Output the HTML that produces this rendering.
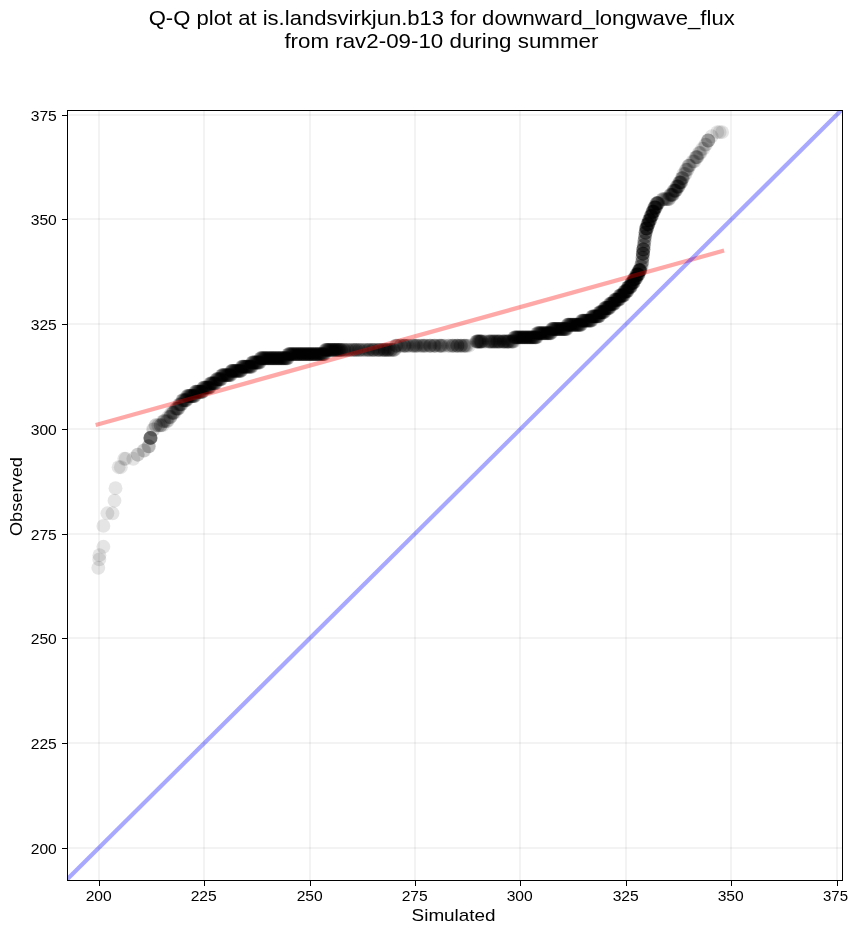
<!DOCTYPE html>
<html><head><meta charset="utf-8"><title>Q-Q plot</title>
<style>html,body{margin:0;padding:0;background:#fff;}body{width:859px;height:934px;overflow:hidden;}svg{display:block;}text{font-family:"Liberation Sans",sans-serif;fill:#000;}svg{will-change:transform;opacity:0.999;}</style>
</head><body>
<svg width="859" height="934" viewBox="0 0 859 934">
<rect x="0" y="0" width="859" height="934" fill="#fff"/>
<defs><clipPath id="ax"><rect x="67.5" y="110.5" width="775.0" height="770.0"/></clipPath></defs>
<g clip-path="url(#ax)" fill="#000" fill-opacity="0.1">
<circle cx="98.3" cy="567.8" r="6.95"/>
<circle cx="99.3" cy="559.4" r="6.95"/>
<circle cx="99.4" cy="555.2" r="6.95"/>
<circle cx="103.4" cy="546.8" r="6.95"/>
<circle cx="103.4" cy="525.9" r="6.95"/>
<circle cx="107.4" cy="513.3" r="6.95"/>
<circle cx="112.5" cy="513.3" r="6.95"/>
<circle cx="114.5" cy="500.7" r="6.95"/>
<circle cx="115.5" cy="488.2" r="6.95"/>
<circle cx="118.6" cy="467.2" r="6.95"/>
<circle cx="120.8" cy="467.2" r="6.95"/>
<circle cx="124.3" cy="458.8" r="6.95"/>
<circle cx="125.7" cy="458.8" r="6.95"/>
<circle cx="133.3" cy="458.8" r="6.95"/>
<circle cx="137.9" cy="454.7" r="6.95"/>
<circle cx="143.6" cy="450.5" r="6.95"/>
<circle cx="144.4" cy="450.5" r="6.95"/>
<circle cx="137.5" cy="454.7" r="6.95"/>
<circle cx="148.3" cy="446.3" r="6.95"/>
<circle cx="148.7" cy="446.3" r="6.95"/>
<circle cx="149.1" cy="446.3" r="6.95"/>
<circle cx="150.2" cy="437.9" r="6.95"/>
<circle cx="150.3" cy="437.9" r="6.95"/>
<circle cx="150.3" cy="437.9" r="6.95"/>
<circle cx="150.4" cy="437.9" r="6.95"/>
<circle cx="150.5" cy="437.9" r="6.95"/>
<circle cx="150.6" cy="437.9" r="6.95"/>
<circle cx="150.7" cy="437.9" r="6.95"/>
<circle cx="150.7" cy="437.9" r="6.95"/>
<circle cx="153.0" cy="429.5" r="6.95"/>
<circle cx="153.8" cy="429.5" r="6.95"/>
<circle cx="155.5" cy="425.3" r="6.95"/>
<circle cx="156.0" cy="425.3" r="6.95"/>
<circle cx="158.8" cy="425.3" r="6.95"/>
<circle cx="158.0" cy="425.3" r="6.95"/>
<circle cx="160.5" cy="425.3" r="6.95"/>
<circle cx="160.8" cy="425.3" r="6.95"/>
<circle cx="160.9" cy="425.3" r="6.95"/>
<circle cx="162.6" cy="425.3" r="6.95"/>
<circle cx="163.0" cy="421.1" r="6.95"/>
<circle cx="164.0" cy="421.1" r="6.95"/>
<circle cx="163.9" cy="421.1" r="6.95"/>
<circle cx="164.7" cy="421.1" r="6.95"/>
<circle cx="166.2" cy="421.1" r="6.95"/>
<circle cx="167.7" cy="421.1" r="6.95"/>
<circle cx="166.9" cy="421.1" r="6.95"/>
<circle cx="168.0" cy="417.0" r="6.95"/>
<circle cx="169.1" cy="417.0" r="6.95"/>
<circle cx="170.3" cy="417.0" r="6.95"/>
<circle cx="170.2" cy="417.0" r="6.95"/>
<circle cx="170.5" cy="417.0" r="6.95"/>
<circle cx="172.2" cy="412.8" r="6.95"/>
<circle cx="171.1" cy="412.8" r="6.95"/>
<circle cx="173.3" cy="412.8" r="6.95"/>
<circle cx="172.8" cy="412.8" r="6.95"/>
<circle cx="173.2" cy="412.8" r="6.95"/>
<circle cx="173.8" cy="412.8" r="6.95"/>
<circle cx="174.8" cy="412.8" r="6.95"/>
<circle cx="175.9" cy="408.6" r="6.95"/>
<circle cx="176.0" cy="408.6" r="6.95"/>
<circle cx="176.6" cy="408.6" r="6.95"/>
<circle cx="177.1" cy="408.6" r="6.95"/>
<circle cx="177.4" cy="408.6" r="6.95"/>
<circle cx="177.9" cy="408.6" r="6.95"/>
<circle cx="178.2" cy="408.6" r="6.95"/>
<circle cx="178.6" cy="408.6" r="6.95"/>
<circle cx="179.1" cy="404.4" r="6.95"/>
<circle cx="179.7" cy="404.4" r="6.95"/>
<circle cx="180.0" cy="404.4" r="6.95"/>
<circle cx="180.4" cy="404.4" r="6.95"/>
<circle cx="181.0" cy="404.4" r="6.95"/>
<circle cx="181.3" cy="404.4" r="6.95"/>
<circle cx="181.7" cy="404.4" r="6.95"/>
<circle cx="182.3" cy="400.2" r="6.95"/>
<circle cx="182.7" cy="400.2" r="6.95"/>
<circle cx="183.0" cy="400.2" r="6.95"/>
<circle cx="183.5" cy="400.2" r="6.95"/>
<circle cx="183.9" cy="400.2" r="6.95"/>
<circle cx="184.5" cy="400.2" r="6.95"/>
<circle cx="184.9" cy="400.2" r="6.95"/>
<circle cx="185.1" cy="400.2" r="6.95"/>
<circle cx="185.7" cy="400.2" r="6.95"/>
<circle cx="185.7" cy="400.2" r="6.95"/>
<circle cx="186.1" cy="400.2" r="6.95"/>
<circle cx="186.6" cy="400.2" r="6.95"/>
<circle cx="186.7" cy="400.2" r="6.95"/>
<circle cx="187.2" cy="396.0" r="6.95"/>
<circle cx="187.3" cy="396.0" r="6.95"/>
<circle cx="187.9" cy="396.0" r="6.95"/>
<circle cx="188.3" cy="396.0" r="6.95"/>
<circle cx="188.5" cy="396.0" r="6.95"/>
<circle cx="189.0" cy="396.0" r="6.95"/>
<circle cx="189.1" cy="396.0" r="6.95"/>
<circle cx="189.6" cy="396.0" r="6.95"/>
<circle cx="189.9" cy="396.0" r="6.95"/>
<circle cx="190.2" cy="396.0" r="6.95"/>
<circle cx="190.5" cy="396.0" r="6.95"/>
<circle cx="190.9" cy="396.0" r="6.95"/>
<circle cx="191.3" cy="396.0" r="6.95"/>
<circle cx="191.5" cy="396.0" r="6.95"/>
<circle cx="191.9" cy="396.0" r="6.95"/>
<circle cx="192.0" cy="396.0" r="6.95"/>
<circle cx="192.6" cy="396.0" r="6.95"/>
<circle cx="192.9" cy="396.0" r="6.95"/>
<circle cx="193.3" cy="396.0" r="6.95"/>
<circle cx="193.6" cy="396.0" r="6.95"/>
<circle cx="193.8" cy="396.0" r="6.95"/>
<circle cx="194.1" cy="396.0" r="6.95"/>
<circle cx="194.6" cy="396.0" r="6.95"/>
<circle cx="194.7" cy="396.0" r="6.95"/>
<circle cx="195.2" cy="391.8" r="6.95"/>
<circle cx="195.4" cy="391.8" r="6.95"/>
<circle cx="195.7" cy="391.8" r="6.95"/>
<circle cx="196.0" cy="391.8" r="6.95"/>
<circle cx="196.6" cy="391.8" r="6.95"/>
<circle cx="196.7" cy="391.8" r="6.95"/>
<circle cx="197.1" cy="391.8" r="6.95"/>
<circle cx="197.5" cy="391.8" r="6.95"/>
<circle cx="198.0" cy="391.8" r="6.95"/>
<circle cx="198.0" cy="391.8" r="6.95"/>
<circle cx="198.5" cy="391.8" r="6.95"/>
<circle cx="198.8" cy="391.8" r="6.95"/>
<circle cx="199.3" cy="391.8" r="6.95"/>
<circle cx="199.6" cy="391.8" r="6.95"/>
<circle cx="200.0" cy="391.8" r="6.95"/>
<circle cx="200.1" cy="391.8" r="6.95"/>
<circle cx="200.5" cy="391.8" r="6.95"/>
<circle cx="200.8" cy="391.8" r="6.95"/>
<circle cx="201.3" cy="391.8" r="6.95"/>
<circle cx="201.7" cy="391.8" r="6.95"/>
<circle cx="201.7" cy="391.8" r="6.95"/>
<circle cx="202.1" cy="391.8" r="6.95"/>
<circle cx="202.4" cy="391.8" r="6.95"/>
<circle cx="202.7" cy="391.8" r="6.95"/>
<circle cx="203.2" cy="387.6" r="6.95"/>
<circle cx="203.5" cy="387.6" r="6.95"/>
<circle cx="203.8" cy="387.6" r="6.95"/>
<circle cx="204.0" cy="387.6" r="6.95"/>
<circle cx="204.5" cy="387.6" r="6.95"/>
<circle cx="204.8" cy="387.6" r="6.95"/>
<circle cx="205.2" cy="387.6" r="6.95"/>
<circle cx="205.7" cy="387.6" r="6.95"/>
<circle cx="205.9" cy="387.6" r="6.95"/>
<circle cx="206.2" cy="387.6" r="6.95"/>
<circle cx="206.5" cy="387.6" r="6.95"/>
<circle cx="206.9" cy="387.6" r="6.95"/>
<circle cx="207.0" cy="387.6" r="6.95"/>
<circle cx="207.6" cy="387.6" r="6.95"/>
<circle cx="207.9" cy="387.6" r="6.95"/>
<circle cx="208.3" cy="387.6" r="6.95"/>
<circle cx="208.6" cy="387.6" r="6.95"/>
<circle cx="208.8" cy="387.6" r="6.95"/>
<circle cx="209.1" cy="387.6" r="6.95"/>
<circle cx="209.4" cy="387.6" r="6.95"/>
<circle cx="209.9" cy="387.6" r="6.95"/>
<circle cx="210.0" cy="383.4" r="6.95"/>
<circle cx="210.4" cy="383.4" r="6.95"/>
<circle cx="210.7" cy="383.4" r="6.95"/>
<circle cx="211.1" cy="383.4" r="6.95"/>
<circle cx="211.4" cy="383.4" r="6.95"/>
<circle cx="211.7" cy="383.4" r="6.95"/>
<circle cx="212.0" cy="383.4" r="6.95"/>
<circle cx="212.4" cy="383.4" r="6.95"/>
<circle cx="212.7" cy="383.4" r="6.95"/>
<circle cx="213.1" cy="383.4" r="6.95"/>
<circle cx="213.3" cy="383.4" r="6.95"/>
<circle cx="214.0" cy="383.4" r="6.95"/>
<circle cx="214.2" cy="383.4" r="6.95"/>
<circle cx="214.4" cy="383.4" r="6.95"/>
<circle cx="214.8" cy="383.4" r="6.95"/>
<circle cx="215.1" cy="383.4" r="6.95"/>
<circle cx="215.5" cy="383.4" r="6.95"/>
<circle cx="215.7" cy="383.4" r="6.95"/>
<circle cx="216.3" cy="379.3" r="6.95"/>
<circle cx="216.7" cy="379.3" r="6.95"/>
<circle cx="216.8" cy="379.3" r="6.95"/>
<circle cx="217.2" cy="379.3" r="6.95"/>
<circle cx="217.4" cy="379.3" r="6.95"/>
<circle cx="217.8" cy="379.3" r="6.95"/>
<circle cx="218.2" cy="379.3" r="6.95"/>
<circle cx="218.5" cy="379.3" r="6.95"/>
<circle cx="219.0" cy="379.3" r="6.95"/>
<circle cx="219.1" cy="379.3" r="6.95"/>
<circle cx="219.4" cy="379.3" r="6.95"/>
<circle cx="220.1" cy="379.3" r="6.95"/>
<circle cx="220.3" cy="379.3" r="6.95"/>
<circle cx="220.5" cy="379.3" r="6.95"/>
<circle cx="221.0" cy="379.3" r="6.95"/>
<circle cx="221.2" cy="379.3" r="6.95"/>
<circle cx="221.7" cy="375.1" r="6.95"/>
<circle cx="222.2" cy="375.1" r="6.95"/>
<circle cx="222.5" cy="375.1" r="6.95"/>
<circle cx="222.8" cy="375.1" r="6.95"/>
<circle cx="222.9" cy="375.1" r="6.95"/>
<circle cx="223.3" cy="375.1" r="6.95"/>
<circle cx="223.6" cy="375.1" r="6.95"/>
<circle cx="224.1" cy="375.1" r="6.95"/>
<circle cx="224.4" cy="375.1" r="6.95"/>
<circle cx="224.8" cy="375.1" r="6.95"/>
<circle cx="225.0" cy="375.1" r="6.95"/>
<circle cx="225.3" cy="375.1" r="6.95"/>
<circle cx="225.8" cy="375.1" r="6.95"/>
<circle cx="226.2" cy="375.1" r="6.95"/>
<circle cx="226.5" cy="375.1" r="6.95"/>
<circle cx="226.9" cy="375.1" r="6.95"/>
<circle cx="227.2" cy="375.1" r="6.95"/>
<circle cx="227.5" cy="375.1" r="6.95"/>
<circle cx="227.7" cy="375.1" r="6.95"/>
<circle cx="228.1" cy="375.1" r="6.95"/>
<circle cx="228.4" cy="375.1" r="6.95"/>
<circle cx="228.6" cy="375.1" r="6.95"/>
<circle cx="229.0" cy="375.1" r="6.95"/>
<circle cx="229.4" cy="375.1" r="6.95"/>
<circle cx="229.7" cy="375.1" r="6.95"/>
<circle cx="230.2" cy="375.1" r="6.95"/>
<circle cx="230.6" cy="375.1" r="6.95"/>
<circle cx="230.8" cy="375.1" r="6.95"/>
<circle cx="231.3" cy="370.9" r="6.95"/>
<circle cx="231.7" cy="370.9" r="6.95"/>
<circle cx="232.0" cy="370.9" r="6.95"/>
<circle cx="232.1" cy="370.9" r="6.95"/>
<circle cx="232.4" cy="370.9" r="6.95"/>
<circle cx="232.7" cy="370.9" r="6.95"/>
<circle cx="233.0" cy="370.9" r="6.95"/>
<circle cx="233.4" cy="370.9" r="6.95"/>
<circle cx="233.8" cy="370.9" r="6.95"/>
<circle cx="234.2" cy="370.9" r="6.95"/>
<circle cx="234.6" cy="370.9" r="6.95"/>
<circle cx="234.8" cy="370.9" r="6.95"/>
<circle cx="235.2" cy="370.9" r="6.95"/>
<circle cx="235.5" cy="370.9" r="6.95"/>
<circle cx="235.6" cy="370.9" r="6.95"/>
<circle cx="236.1" cy="370.9" r="6.95"/>
<circle cx="236.5" cy="370.9" r="6.95"/>
<circle cx="236.8" cy="370.9" r="6.95"/>
<circle cx="237.2" cy="370.9" r="6.95"/>
<circle cx="237.4" cy="370.9" r="6.95"/>
<circle cx="237.6" cy="370.9" r="6.95"/>
<circle cx="238.1" cy="370.9" r="6.95"/>
<circle cx="238.3" cy="370.9" r="6.95"/>
<circle cx="238.8" cy="370.9" r="6.95"/>
<circle cx="239.2" cy="370.9" r="6.95"/>
<circle cx="239.3" cy="370.9" r="6.95"/>
<circle cx="239.7" cy="370.9" r="6.95"/>
<circle cx="240.2" cy="370.9" r="6.95"/>
<circle cx="240.4" cy="370.9" r="6.95"/>
<circle cx="240.6" cy="370.9" r="6.95"/>
<circle cx="240.9" cy="370.9" r="6.95"/>
<circle cx="241.2" cy="370.9" r="6.95"/>
<circle cx="241.8" cy="366.7" r="6.95"/>
<circle cx="242.1" cy="366.7" r="6.95"/>
<circle cx="242.2" cy="366.7" r="6.95"/>
<circle cx="242.8" cy="366.7" r="6.95"/>
<circle cx="243.1" cy="366.7" r="6.95"/>
<circle cx="243.4" cy="366.7" r="6.95"/>
<circle cx="243.6" cy="366.7" r="6.95"/>
<circle cx="244.0" cy="366.7" r="6.95"/>
<circle cx="244.2" cy="366.7" r="6.95"/>
<circle cx="244.5" cy="366.7" r="6.95"/>
<circle cx="245.1" cy="366.7" r="6.95"/>
<circle cx="245.3" cy="366.7" r="6.95"/>
<circle cx="245.6" cy="366.7" r="6.95"/>
<circle cx="246.1" cy="366.7" r="6.95"/>
<circle cx="246.2" cy="366.7" r="6.95"/>
<circle cx="246.7" cy="366.7" r="6.95"/>
<circle cx="247.0" cy="366.7" r="6.95"/>
<circle cx="247.1" cy="366.7" r="6.95"/>
<circle cx="247.5" cy="366.7" r="6.95"/>
<circle cx="247.8" cy="366.7" r="6.95"/>
<circle cx="248.1" cy="366.7" r="6.95"/>
<circle cx="248.6" cy="366.7" r="6.95"/>
<circle cx="248.8" cy="366.7" r="6.95"/>
<circle cx="249.2" cy="366.7" r="6.95"/>
<circle cx="249.4" cy="366.7" r="6.95"/>
<circle cx="250.0" cy="366.7" r="6.95"/>
<circle cx="250.1" cy="366.7" r="6.95"/>
<circle cx="250.5" cy="366.7" r="6.95"/>
<circle cx="250.9" cy="366.7" r="6.95"/>
<circle cx="251.3" cy="366.7" r="6.95"/>
<circle cx="251.5" cy="366.7" r="6.95"/>
<circle cx="252.0" cy="366.7" r="6.95"/>
<circle cx="252.2" cy="362.5" r="6.95"/>
<circle cx="252.5" cy="362.5" r="6.95"/>
<circle cx="252.8" cy="362.5" r="6.95"/>
<circle cx="253.0" cy="362.5" r="6.95"/>
<circle cx="253.5" cy="362.5" r="6.95"/>
<circle cx="253.7" cy="362.5" r="6.95"/>
<circle cx="254.0" cy="362.5" r="6.95"/>
<circle cx="254.6" cy="362.5" r="6.95"/>
<circle cx="254.7" cy="362.5" r="6.95"/>
<circle cx="255.2" cy="362.5" r="6.95"/>
<circle cx="255.6" cy="362.5" r="6.95"/>
<circle cx="255.9" cy="362.5" r="6.95"/>
<circle cx="256.1" cy="362.5" r="6.95"/>
<circle cx="256.5" cy="362.5" r="6.95"/>
<circle cx="256.9" cy="362.5" r="6.95"/>
<circle cx="257.3" cy="362.5" r="6.95"/>
<circle cx="257.4" cy="362.5" r="6.95"/>
<circle cx="257.9" cy="362.5" r="6.95"/>
<circle cx="258.1" cy="362.5" r="6.95"/>
<circle cx="258.4" cy="362.5" r="6.95"/>
<circle cx="258.9" cy="362.5" r="6.95"/>
<circle cx="259.2" cy="362.5" r="6.95"/>
<circle cx="259.5" cy="362.5" r="6.95"/>
<circle cx="259.9" cy="362.5" r="6.95"/>
<circle cx="260.3" cy="358.3" r="6.95"/>
<circle cx="260.5" cy="358.3" r="6.95"/>
<circle cx="260.9" cy="358.3" r="6.95"/>
<circle cx="261.2" cy="358.3" r="6.95"/>
<circle cx="261.5" cy="358.3" r="6.95"/>
<circle cx="261.9" cy="358.3" r="6.95"/>
<circle cx="262.2" cy="358.3" r="6.95"/>
<circle cx="262.5" cy="358.3" r="6.95"/>
<circle cx="262.8" cy="358.3" r="6.95"/>
<circle cx="263.3" cy="358.3" r="6.95"/>
<circle cx="263.6" cy="358.3" r="6.95"/>
<circle cx="264.0" cy="358.3" r="6.95"/>
<circle cx="264.3" cy="358.3" r="6.95"/>
<circle cx="264.4" cy="358.3" r="6.95"/>
<circle cx="264.9" cy="358.3" r="6.95"/>
<circle cx="265.3" cy="358.3" r="6.95"/>
<circle cx="265.6" cy="358.3" r="6.95"/>
<circle cx="265.7" cy="358.3" r="6.95"/>
<circle cx="266.0" cy="358.3" r="6.95"/>
<circle cx="266.5" cy="358.3" r="6.95"/>
<circle cx="266.7" cy="358.3" r="6.95"/>
<circle cx="267.1" cy="358.3" r="6.95"/>
<circle cx="267.4" cy="358.3" r="6.95"/>
<circle cx="267.9" cy="358.3" r="6.95"/>
<circle cx="268.3" cy="358.3" r="6.95"/>
<circle cx="268.6" cy="358.3" r="6.95"/>
<circle cx="268.7" cy="358.3" r="6.95"/>
<circle cx="269.2" cy="358.3" r="6.95"/>
<circle cx="269.6" cy="358.3" r="6.95"/>
<circle cx="269.7" cy="358.3" r="6.95"/>
<circle cx="270.3" cy="358.3" r="6.95"/>
<circle cx="270.7" cy="358.3" r="6.95"/>
<circle cx="270.7" cy="358.3" r="6.95"/>
<circle cx="271.3" cy="358.3" r="6.95"/>
<circle cx="271.5" cy="358.3" r="6.95"/>
<circle cx="271.8" cy="358.3" r="6.95"/>
<circle cx="272.3" cy="358.3" r="6.95"/>
<circle cx="272.6" cy="358.3" r="6.95"/>
<circle cx="272.7" cy="358.3" r="6.95"/>
<circle cx="273.1" cy="358.3" r="6.95"/>
<circle cx="273.5" cy="358.3" r="6.95"/>
<circle cx="273.8" cy="358.3" r="6.95"/>
<circle cx="274.1" cy="358.3" r="6.95"/>
<circle cx="274.4" cy="358.3" r="6.95"/>
<circle cx="274.9" cy="358.3" r="6.95"/>
<circle cx="275.0" cy="358.3" r="6.95"/>
<circle cx="275.5" cy="358.3" r="6.95"/>
<circle cx="275.8" cy="358.3" r="6.95"/>
<circle cx="276.0" cy="358.3" r="6.95"/>
<circle cx="276.4" cy="358.3" r="6.95"/>
<circle cx="276.9" cy="358.3" r="6.95"/>
<circle cx="277.2" cy="358.3" r="6.95"/>
<circle cx="277.4" cy="358.3" r="6.95"/>
<circle cx="278.0" cy="358.3" r="6.95"/>
<circle cx="278.3" cy="358.3" r="6.95"/>
<circle cx="278.7" cy="358.3" r="6.95"/>
<circle cx="278.7" cy="358.3" r="6.95"/>
<circle cx="279.1" cy="358.3" r="6.95"/>
<circle cx="279.3" cy="358.3" r="6.95"/>
<circle cx="279.9" cy="358.3" r="6.95"/>
<circle cx="280.1" cy="358.3" r="6.95"/>
<circle cx="280.4" cy="358.3" r="6.95"/>
<circle cx="280.8" cy="358.3" r="6.95"/>
<circle cx="281.3" cy="358.3" r="6.95"/>
<circle cx="281.6" cy="358.3" r="6.95"/>
<circle cx="281.8" cy="358.3" r="6.95"/>
<circle cx="282.0" cy="358.3" r="6.95"/>
<circle cx="282.6" cy="358.3" r="6.95"/>
<circle cx="282.9" cy="358.3" r="6.95"/>
<circle cx="283.2" cy="358.3" r="6.95"/>
<circle cx="283.4" cy="358.3" r="6.95"/>
<circle cx="283.7" cy="358.3" r="6.95"/>
<circle cx="284.2" cy="358.3" r="6.95"/>
<circle cx="284.5" cy="358.3" r="6.95"/>
<circle cx="284.7" cy="358.3" r="6.95"/>
<circle cx="285.3" cy="358.3" r="6.95"/>
<circle cx="285.5" cy="358.3" r="6.95"/>
<circle cx="285.9" cy="358.3" r="6.95"/>
<circle cx="286.0" cy="358.3" r="6.95"/>
<circle cx="286.6" cy="358.3" r="6.95"/>
<circle cx="286.7" cy="358.3" r="6.95"/>
<circle cx="287.3" cy="358.3" r="6.95"/>
<circle cx="287.5" cy="358.3" r="6.95"/>
<circle cx="287.8" cy="358.3" r="6.95"/>
<circle cx="288.2" cy="354.1" r="6.95"/>
<circle cx="288.6" cy="354.1" r="6.95"/>
<circle cx="288.8" cy="354.1" r="6.95"/>
<circle cx="289.0" cy="354.1" r="6.95"/>
<circle cx="289.5" cy="354.1" r="6.95"/>
<circle cx="289.7" cy="354.1" r="6.95"/>
<circle cx="290.0" cy="354.1" r="6.95"/>
<circle cx="290.4" cy="354.1" r="6.95"/>
<circle cx="290.7" cy="354.1" r="6.95"/>
<circle cx="291.1" cy="354.1" r="6.95"/>
<circle cx="291.4" cy="354.1" r="6.95"/>
<circle cx="291.8" cy="354.1" r="6.95"/>
<circle cx="292.3" cy="354.1" r="6.95"/>
<circle cx="292.4" cy="354.1" r="6.95"/>
<circle cx="292.8" cy="354.1" r="6.95"/>
<circle cx="293.1" cy="354.1" r="6.95"/>
<circle cx="293.4" cy="354.1" r="6.95"/>
<circle cx="293.7" cy="354.1" r="6.95"/>
<circle cx="294.1" cy="354.1" r="6.95"/>
<circle cx="294.3" cy="354.1" r="6.95"/>
<circle cx="294.9" cy="354.1" r="6.95"/>
<circle cx="295.2" cy="354.1" r="6.95"/>
<circle cx="295.4" cy="354.1" r="6.95"/>
<circle cx="295.8" cy="354.1" r="6.95"/>
<circle cx="296.3" cy="354.1" r="6.95"/>
<circle cx="296.4" cy="354.1" r="6.95"/>
<circle cx="296.9" cy="354.1" r="6.95"/>
<circle cx="297.1" cy="354.1" r="6.95"/>
<circle cx="297.5" cy="354.1" r="6.95"/>
<circle cx="297.9" cy="354.1" r="6.95"/>
<circle cx="298.1" cy="354.1" r="6.95"/>
<circle cx="298.5" cy="354.1" r="6.95"/>
<circle cx="298.9" cy="354.1" r="6.95"/>
<circle cx="299.3" cy="354.1" r="6.95"/>
<circle cx="299.4" cy="354.1" r="6.95"/>
<circle cx="299.9" cy="354.1" r="6.95"/>
<circle cx="300.2" cy="354.1" r="6.95"/>
<circle cx="300.5" cy="354.1" r="6.95"/>
<circle cx="300.8" cy="354.1" r="6.95"/>
<circle cx="301.1" cy="354.1" r="6.95"/>
<circle cx="301.4" cy="354.1" r="6.95"/>
<circle cx="301.7" cy="354.1" r="6.95"/>
<circle cx="302.0" cy="354.1" r="6.95"/>
<circle cx="302.6" cy="354.1" r="6.95"/>
<circle cx="302.8" cy="354.1" r="6.95"/>
<circle cx="303.1" cy="354.1" r="6.95"/>
<circle cx="303.4" cy="354.1" r="6.95"/>
<circle cx="303.9" cy="354.1" r="6.95"/>
<circle cx="304.3" cy="354.1" r="6.95"/>
<circle cx="304.6" cy="354.1" r="6.95"/>
<circle cx="304.8" cy="354.1" r="6.95"/>
<circle cx="305.1" cy="354.1" r="6.95"/>
<circle cx="305.4" cy="354.1" r="6.95"/>
<circle cx="305.8" cy="354.1" r="6.95"/>
<circle cx="306.1" cy="354.1" r="6.95"/>
<circle cx="306.5" cy="354.1" r="6.95"/>
<circle cx="306.8" cy="354.1" r="6.95"/>
<circle cx="307.3" cy="354.1" r="6.95"/>
<circle cx="307.7" cy="354.1" r="6.95"/>
<circle cx="307.8" cy="354.1" r="6.95"/>
<circle cx="308.1" cy="354.1" r="6.95"/>
<circle cx="308.7" cy="354.1" r="6.95"/>
<circle cx="308.8" cy="354.1" r="6.95"/>
<circle cx="309.1" cy="354.1" r="6.95"/>
<circle cx="309.3" cy="354.1" r="6.95"/>
<circle cx="309.8" cy="354.1" r="6.95"/>
<circle cx="310.2" cy="354.1" r="6.95"/>
<circle cx="310.5" cy="354.1" r="6.95"/>
<circle cx="310.7" cy="354.1" r="6.95"/>
<circle cx="311.2" cy="354.1" r="6.95"/>
<circle cx="311.3" cy="354.1" r="6.95"/>
<circle cx="311.8" cy="354.1" r="6.95"/>
<circle cx="312.0" cy="354.1" r="6.95"/>
<circle cx="312.5" cy="354.1" r="6.95"/>
<circle cx="312.7" cy="354.1" r="6.95"/>
<circle cx="313.0" cy="354.1" r="6.95"/>
<circle cx="313.4" cy="354.1" r="6.95"/>
<circle cx="313.7" cy="354.1" r="6.95"/>
<circle cx="314.2" cy="354.1" r="6.95"/>
<circle cx="314.5" cy="354.1" r="6.95"/>
<circle cx="314.9" cy="354.1" r="6.95"/>
<circle cx="315.2" cy="354.1" r="6.95"/>
<circle cx="315.6" cy="354.1" r="6.95"/>
<circle cx="316.0" cy="354.1" r="6.95"/>
<circle cx="316.1" cy="354.1" r="6.95"/>
<circle cx="316.4" cy="354.1" r="6.95"/>
<circle cx="317.0" cy="354.1" r="6.95"/>
<circle cx="317.0" cy="354.1" r="6.95"/>
<circle cx="317.6" cy="354.1" r="6.95"/>
<circle cx="317.9" cy="354.1" r="6.95"/>
<circle cx="318.0" cy="354.1" r="6.95"/>
<circle cx="318.6" cy="354.1" r="6.95"/>
<circle cx="319.0" cy="354.1" r="6.95"/>
<circle cx="319.2" cy="354.1" r="6.95"/>
<circle cx="319.6" cy="354.1" r="6.95"/>
<circle cx="319.9" cy="354.1" r="6.95"/>
<circle cx="320.0" cy="354.1" r="6.95"/>
<circle cx="320.5" cy="354.1" r="6.95"/>
<circle cx="320.8" cy="354.1" r="6.95"/>
<circle cx="321.3" cy="354.1" r="6.95"/>
<circle cx="321.6" cy="354.1" r="6.95"/>
<circle cx="321.9" cy="354.1" r="6.95"/>
<circle cx="322.2" cy="354.1" r="6.95"/>
<circle cx="322.6" cy="354.1" r="6.95"/>
<circle cx="322.9" cy="354.1" r="6.95"/>
<circle cx="323.2" cy="354.1" r="6.95"/>
<circle cx="323.4" cy="354.1" r="6.95"/>
<circle cx="323.7" cy="354.1" r="6.95"/>
<circle cx="324.0" cy="354.1" r="6.95"/>
<circle cx="324.5" cy="354.1" r="6.95"/>
<circle cx="324.7" cy="354.1" r="6.95"/>
<circle cx="325.3" cy="349.9" r="6.95"/>
<circle cx="325.5" cy="349.9" r="6.95"/>
<circle cx="325.9" cy="349.9" r="6.95"/>
<circle cx="326.2" cy="349.9" r="6.95"/>
<circle cx="326.6" cy="349.9" r="6.95"/>
<circle cx="326.8" cy="349.9" r="6.95"/>
<circle cx="327.0" cy="349.9" r="6.95"/>
<circle cx="327.6" cy="349.9" r="6.95"/>
<circle cx="327.9" cy="349.9" r="6.95"/>
<circle cx="328.2" cy="349.9" r="6.95"/>
<circle cx="328.5" cy="349.9" r="6.95"/>
<circle cx="328.9" cy="349.9" r="6.95"/>
<circle cx="329.0" cy="349.9" r="6.95"/>
<circle cx="329.6" cy="349.9" r="6.95"/>
<circle cx="329.8" cy="349.9" r="6.95"/>
<circle cx="330.0" cy="349.9" r="6.95"/>
<circle cx="330.4" cy="349.9" r="6.95"/>
<circle cx="330.9" cy="349.9" r="6.95"/>
<circle cx="331.1" cy="349.9" r="6.95"/>
<circle cx="331.6" cy="349.9" r="6.95"/>
<circle cx="332.0" cy="349.9" r="6.95"/>
<circle cx="332.2" cy="349.9" r="6.95"/>
<circle cx="332.5" cy="349.9" r="6.95"/>
<circle cx="332.8" cy="349.9" r="6.95"/>
<circle cx="333.2" cy="349.9" r="6.95"/>
<circle cx="333.6" cy="349.9" r="6.95"/>
<circle cx="333.9" cy="349.9" r="6.95"/>
<circle cx="334.2" cy="349.9" r="6.95"/>
<circle cx="334.4" cy="349.9" r="6.95"/>
<circle cx="334.7" cy="349.9" r="6.95"/>
<circle cx="335.1" cy="349.9" r="6.95"/>
<circle cx="335.6" cy="349.9" r="6.95"/>
<circle cx="335.8" cy="349.9" r="6.95"/>
<circle cx="336.2" cy="349.9" r="6.95"/>
<circle cx="336.3" cy="349.9" r="6.95"/>
<circle cx="336.7" cy="349.9" r="6.95"/>
<circle cx="337.1" cy="349.9" r="6.95"/>
<circle cx="337.6" cy="349.9" r="6.95"/>
<circle cx="337.9" cy="349.9" r="6.95"/>
<circle cx="338.2" cy="349.9" r="6.95"/>
<circle cx="338.4" cy="349.9" r="6.95"/>
<circle cx="338.8" cy="349.9" r="6.95"/>
<circle cx="339.2" cy="349.9" r="6.95"/>
<circle cx="339.5" cy="349.9" r="6.95"/>
<circle cx="339.7" cy="349.9" r="6.95"/>
<circle cx="340.3" cy="349.9" r="6.95"/>
<circle cx="340.4" cy="349.9" r="6.95"/>
<circle cx="341.0" cy="349.9" r="6.95"/>
<circle cx="341.3" cy="349.9" r="6.95"/>
<circle cx="341.3" cy="349.9" r="6.95"/>
<circle cx="341.8" cy="349.9" r="6.95"/>
<circle cx="343.1" cy="349.9" r="6.95"/>
<circle cx="344.2" cy="349.9" r="6.95"/>
<circle cx="343.8" cy="349.9" r="6.95"/>
<circle cx="344.1" cy="349.9" r="6.95"/>
<circle cx="344.8" cy="349.9" r="6.95"/>
<circle cx="347.2" cy="349.9" r="6.95"/>
<circle cx="346.3" cy="349.9" r="6.95"/>
<circle cx="347.9" cy="349.9" r="6.95"/>
<circle cx="347.6" cy="349.9" r="6.95"/>
<circle cx="349.3" cy="349.9" r="6.95"/>
<circle cx="351.0" cy="349.9" r="6.95"/>
<circle cx="349.9" cy="349.9" r="6.95"/>
<circle cx="352.2" cy="349.9" r="6.95"/>
<circle cx="352.3" cy="349.9" r="6.95"/>
<circle cx="353.9" cy="349.9" r="6.95"/>
<circle cx="354.3" cy="349.9" r="6.95"/>
<circle cx="353.9" cy="349.9" r="6.95"/>
<circle cx="356.2" cy="349.9" r="6.95"/>
<circle cx="356.0" cy="349.9" r="6.95"/>
<circle cx="355.8" cy="349.9" r="6.95"/>
<circle cx="356.5" cy="349.9" r="6.95"/>
<circle cx="358.3" cy="349.9" r="6.95"/>
<circle cx="359.0" cy="349.9" r="6.95"/>
<circle cx="359.4" cy="349.9" r="6.95"/>
<circle cx="359.8" cy="349.9" r="6.95"/>
<circle cx="361.0" cy="349.9" r="6.95"/>
<circle cx="361.7" cy="349.9" r="6.95"/>
<circle cx="363.7" cy="349.9" r="6.95"/>
<circle cx="362.5" cy="349.9" r="6.95"/>
<circle cx="365.0" cy="349.9" r="6.95"/>
<circle cx="366.0" cy="349.9" r="6.95"/>
<circle cx="365.1" cy="349.9" r="6.95"/>
<circle cx="367.7" cy="349.9" r="6.95"/>
<circle cx="368.0" cy="349.9" r="6.95"/>
<circle cx="369.2" cy="349.9" r="6.95"/>
<circle cx="368.5" cy="349.9" r="6.95"/>
<circle cx="369.5" cy="349.9" r="6.95"/>
<circle cx="370.3" cy="349.9" r="6.95"/>
<circle cx="372.4" cy="349.9" r="6.95"/>
<circle cx="372.3" cy="349.9" r="6.95"/>
<circle cx="372.5" cy="349.9" r="6.95"/>
<circle cx="373.4" cy="349.9" r="6.95"/>
<circle cx="373.8" cy="349.9" r="6.95"/>
<circle cx="374.1" cy="349.9" r="6.95"/>
<circle cx="374.9" cy="349.9" r="6.95"/>
<circle cx="377.0" cy="349.9" r="6.95"/>
<circle cx="377.0" cy="349.9" r="6.95"/>
<circle cx="378.6" cy="349.9" r="6.95"/>
<circle cx="378.0" cy="349.9" r="6.95"/>
<circle cx="378.6" cy="349.9" r="6.95"/>
<circle cx="379.5" cy="349.9" r="6.95"/>
<circle cx="379.6" cy="349.9" r="6.95"/>
<circle cx="380.4" cy="349.9" r="6.95"/>
<circle cx="382.0" cy="349.9" r="6.95"/>
<circle cx="382.4" cy="349.9" r="6.95"/>
<circle cx="382.9" cy="349.9" r="6.95"/>
<circle cx="383.1" cy="349.9" r="6.95"/>
<circle cx="384.2" cy="349.9" r="6.95"/>
<circle cx="384.8" cy="349.9" r="6.95"/>
<circle cx="384.7" cy="349.9" r="6.95"/>
<circle cx="385.5" cy="349.9" r="6.95"/>
<circle cx="385.0" cy="349.9" r="6.95"/>
<circle cx="386.7" cy="349.9" r="6.95"/>
<circle cx="386.8" cy="349.9" r="6.95"/>
<circle cx="387.8" cy="349.9" r="6.95"/>
<circle cx="388.2" cy="349.9" r="6.95"/>
<circle cx="388.2" cy="349.9" r="6.95"/>
<circle cx="388.3" cy="349.9" r="6.95"/>
<circle cx="390.4" cy="349.9" r="6.95"/>
<circle cx="389.6" cy="349.9" r="6.95"/>
<circle cx="390.7" cy="349.9" r="6.95"/>
<circle cx="391.1" cy="349.9" r="6.95"/>
<circle cx="391.6" cy="349.9" r="6.95"/>
<circle cx="392.9" cy="349.9" r="6.95"/>
<circle cx="393.8" cy="349.9" r="6.95"/>
<circle cx="393.2" cy="349.9" r="6.95"/>
<circle cx="394.4" cy="349.9" r="6.95"/>
<circle cx="394.4" cy="349.9" r="6.95"/>
<circle cx="395.6" cy="345.7" r="6.95"/>
<circle cx="396.0" cy="345.7" r="6.95"/>
<circle cx="396.3" cy="345.7" r="6.95"/>
<circle cx="397.2" cy="345.7" r="6.95"/>
<circle cx="398.1" cy="345.7" r="6.95"/>
<circle cx="400.8" cy="345.7" r="6.95"/>
<circle cx="400.6" cy="345.7" r="6.95"/>
<circle cx="400.8" cy="345.7" r="6.95"/>
<circle cx="403.4" cy="345.7" r="6.95"/>
<circle cx="404.5" cy="345.7" r="6.95"/>
<circle cx="404.0" cy="345.7" r="6.95"/>
<circle cx="404.0" cy="345.7" r="6.95"/>
<circle cx="405.0" cy="345.7" r="6.95"/>
<circle cx="405.6" cy="345.7" r="6.95"/>
<circle cx="407.1" cy="345.7" r="6.95"/>
<circle cx="407.4" cy="345.7" r="6.95"/>
<circle cx="408.6" cy="345.7" r="6.95"/>
<circle cx="409.5" cy="345.7" r="6.95"/>
<circle cx="411.2" cy="345.7" r="6.95"/>
<circle cx="412.9" cy="345.7" r="6.95"/>
<circle cx="413.4" cy="345.7" r="6.95"/>
<circle cx="413.4" cy="345.7" r="6.95"/>
<circle cx="414.2" cy="345.7" r="6.95"/>
<circle cx="415.4" cy="345.7" r="6.95"/>
<circle cx="415.9" cy="345.7" r="6.95"/>
<circle cx="416.6" cy="345.7" r="6.95"/>
<circle cx="416.8" cy="345.7" r="6.95"/>
<circle cx="418.2" cy="345.7" r="6.95"/>
<circle cx="420.9" cy="345.7" r="6.95"/>
<circle cx="419.6" cy="345.7" r="6.95"/>
<circle cx="421.4" cy="345.7" r="6.95"/>
<circle cx="422.6" cy="345.7" r="6.95"/>
<circle cx="424.1" cy="345.7" r="6.95"/>
<circle cx="423.3" cy="345.7" r="6.95"/>
<circle cx="424.3" cy="345.7" r="6.95"/>
<circle cx="425.1" cy="345.7" r="6.95"/>
<circle cx="426.3" cy="345.7" r="6.95"/>
<circle cx="427.3" cy="345.7" r="6.95"/>
<circle cx="429.5" cy="345.7" r="6.95"/>
<circle cx="430.1" cy="345.7" r="6.95"/>
<circle cx="431.0" cy="345.7" r="6.95"/>
<circle cx="429.7" cy="345.7" r="6.95"/>
<circle cx="430.6" cy="345.7" r="6.95"/>
<circle cx="433.2" cy="345.7" r="6.95"/>
<circle cx="434.5" cy="345.7" r="6.95"/>
<circle cx="434.3" cy="345.7" r="6.95"/>
<circle cx="435.5" cy="345.7" r="6.95"/>
<circle cx="434.8" cy="345.7" r="6.95"/>
<circle cx="436.7" cy="345.7" r="6.95"/>
<circle cx="438.9" cy="345.7" r="6.95"/>
<circle cx="439.5" cy="345.7" r="6.95"/>
<circle cx="440.0" cy="345.7" r="6.95"/>
<circle cx="441.6" cy="345.7" r="6.95"/>
<circle cx="440.6" cy="345.7" r="6.95"/>
<circle cx="441.1" cy="345.7" r="6.95"/>
<circle cx="442.1" cy="345.7" r="6.95"/>
<circle cx="443.8" cy="345.7" r="6.95"/>
<circle cx="445.0" cy="345.7" r="6.95"/>
<circle cx="448.2" cy="345.7" r="6.95"/>
<circle cx="448.8" cy="345.7" r="6.95"/>
<circle cx="450.1" cy="345.7" r="6.95"/>
<circle cx="452.0" cy="345.7" r="6.95"/>
<circle cx="452.3" cy="345.7" r="6.95"/>
<circle cx="453.3" cy="345.7" r="6.95"/>
<circle cx="452.9" cy="345.7" r="6.95"/>
<circle cx="455.3" cy="345.7" r="6.95"/>
<circle cx="454.8" cy="345.7" r="6.95"/>
<circle cx="457.2" cy="345.7" r="6.95"/>
<circle cx="457.3" cy="345.7" r="6.95"/>
<circle cx="457.3" cy="345.7" r="6.95"/>
<circle cx="457.6" cy="345.7" r="6.95"/>
<circle cx="458.7" cy="345.7" r="6.95"/>
<circle cx="460.3" cy="345.7" r="6.95"/>
<circle cx="461.2" cy="345.7" r="6.95"/>
<circle cx="460.6" cy="345.7" r="6.95"/>
<circle cx="461.3" cy="345.7" r="6.95"/>
<circle cx="463.1" cy="345.7" r="6.95"/>
<circle cx="464.0" cy="345.7" r="6.95"/>
<circle cx="464.3" cy="345.7" r="6.95"/>
<circle cx="464.7" cy="345.7" r="6.95"/>
<circle cx="466.3" cy="345.7" r="6.95"/>
<circle cx="465.7" cy="345.7" r="6.95"/>
<circle cx="467.2" cy="345.7" r="6.95"/>
<circle cx="469.1" cy="345.7" r="6.95"/>
<circle cx="476.3" cy="341.5" r="6.95"/>
<circle cx="476.5" cy="341.5" r="6.95"/>
<circle cx="477.0" cy="341.5" r="6.95"/>
<circle cx="477.2" cy="341.5" r="6.95"/>
<circle cx="477.4" cy="341.5" r="6.95"/>
<circle cx="477.7" cy="341.5" r="6.95"/>
<circle cx="478.3" cy="341.5" r="6.95"/>
<circle cx="478.6" cy="341.5" r="6.95"/>
<circle cx="478.8" cy="341.5" r="6.95"/>
<circle cx="479.0" cy="341.5" r="6.95"/>
<circle cx="479.5" cy="341.5" r="6.95"/>
<circle cx="479.9" cy="341.5" r="6.95"/>
<circle cx="480.1" cy="341.5" r="6.95"/>
<circle cx="480.4" cy="341.5" r="6.95"/>
<circle cx="480.9" cy="341.5" r="6.95"/>
<circle cx="481.3" cy="341.5" r="6.95"/>
<circle cx="481.4" cy="341.5" r="6.95"/>
<circle cx="481.7" cy="341.5" r="6.95"/>
<circle cx="482.0" cy="341.5" r="6.95"/>
<circle cx="483.5" cy="341.5" r="6.95"/>
<circle cx="485.6" cy="341.5" r="6.95"/>
<circle cx="485.0" cy="341.5" r="6.95"/>
<circle cx="488.3" cy="341.5" r="6.95"/>
<circle cx="489.0" cy="341.5" r="6.95"/>
<circle cx="489.3" cy="341.5" r="6.95"/>
<circle cx="489.3" cy="341.5" r="6.95"/>
<circle cx="491.0" cy="341.5" r="6.95"/>
<circle cx="490.5" cy="341.5" r="6.95"/>
<circle cx="491.8" cy="341.5" r="6.95"/>
<circle cx="491.4" cy="341.5" r="6.95"/>
<circle cx="492.0" cy="341.5" r="6.95"/>
<circle cx="493.3" cy="341.5" r="6.95"/>
<circle cx="493.1" cy="341.5" r="6.95"/>
<circle cx="494.7" cy="341.5" r="6.95"/>
<circle cx="494.5" cy="341.5" r="6.95"/>
<circle cx="494.5" cy="341.5" r="6.95"/>
<circle cx="495.1" cy="341.5" r="6.95"/>
<circle cx="495.9" cy="341.5" r="6.95"/>
<circle cx="496.8" cy="341.5" r="6.95"/>
<circle cx="497.8" cy="341.5" r="6.95"/>
<circle cx="497.0" cy="341.5" r="6.95"/>
<circle cx="497.9" cy="341.5" r="6.95"/>
<circle cx="498.2" cy="341.5" r="6.95"/>
<circle cx="499.9" cy="341.5" r="6.95"/>
<circle cx="499.1" cy="341.5" r="6.95"/>
<circle cx="499.5" cy="341.5" r="6.95"/>
<circle cx="500.0" cy="341.5" r="6.95"/>
<circle cx="501.1" cy="341.5" r="6.95"/>
<circle cx="502.4" cy="341.5" r="6.95"/>
<circle cx="502.9" cy="341.5" r="6.95"/>
<circle cx="503.2" cy="341.5" r="6.95"/>
<circle cx="504.1" cy="341.5" r="6.95"/>
<circle cx="504.5" cy="341.5" r="6.95"/>
<circle cx="504.1" cy="341.5" r="6.95"/>
<circle cx="504.4" cy="341.5" r="6.95"/>
<circle cx="506.1" cy="341.5" r="6.95"/>
<circle cx="506.3" cy="341.5" r="6.95"/>
<circle cx="505.7" cy="341.5" r="6.95"/>
<circle cx="507.2" cy="341.5" r="6.95"/>
<circle cx="507.3" cy="341.5" r="6.95"/>
<circle cx="507.8" cy="341.5" r="6.95"/>
<circle cx="508.3" cy="341.5" r="6.95"/>
<circle cx="508.5" cy="341.5" r="6.95"/>
<circle cx="508.8" cy="341.5" r="6.95"/>
<circle cx="509.7" cy="341.5" r="6.95"/>
<circle cx="510.4" cy="341.5" r="6.95"/>
<circle cx="511.8" cy="341.5" r="6.95"/>
<circle cx="511.1" cy="341.5" r="6.95"/>
<circle cx="512.9" cy="341.5" r="6.95"/>
<circle cx="512.2" cy="341.5" r="6.95"/>
<circle cx="513.0" cy="341.5" r="6.95"/>
<circle cx="514.0" cy="341.5" r="6.95"/>
<circle cx="514.3" cy="337.4" r="6.95"/>
<circle cx="514.5" cy="337.4" r="6.95"/>
<circle cx="514.7" cy="337.4" r="6.95"/>
<circle cx="515.2" cy="337.4" r="6.95"/>
<circle cx="515.5" cy="337.4" r="6.95"/>
<circle cx="516.0" cy="337.4" r="6.95"/>
<circle cx="516.1" cy="337.4" r="6.95"/>
<circle cx="516.5" cy="337.4" r="6.95"/>
<circle cx="517.0" cy="337.4" r="6.95"/>
<circle cx="517.0" cy="337.4" r="6.95"/>
<circle cx="517.5" cy="337.4" r="6.95"/>
<circle cx="517.9" cy="337.4" r="6.95"/>
<circle cx="518.3" cy="337.4" r="6.95"/>
<circle cx="518.3" cy="337.4" r="6.95"/>
<circle cx="518.7" cy="337.4" r="6.95"/>
<circle cx="519.0" cy="337.4" r="6.95"/>
<circle cx="519.6" cy="337.4" r="6.95"/>
<circle cx="519.8" cy="337.4" r="6.95"/>
<circle cx="520.2" cy="337.4" r="6.95"/>
<circle cx="520.6" cy="337.4" r="6.95"/>
<circle cx="520.8" cy="337.4" r="6.95"/>
<circle cx="521.1" cy="337.4" r="6.95"/>
<circle cx="521.7" cy="337.4" r="6.95"/>
<circle cx="521.9" cy="337.4" r="6.95"/>
<circle cx="522.1" cy="337.4" r="6.95"/>
<circle cx="522.6" cy="337.4" r="6.95"/>
<circle cx="522.8" cy="337.4" r="6.95"/>
<circle cx="523.1" cy="337.4" r="6.95"/>
<circle cx="523.3" cy="337.4" r="6.95"/>
<circle cx="523.9" cy="337.4" r="6.95"/>
<circle cx="524.3" cy="337.4" r="6.95"/>
<circle cx="524.5" cy="337.4" r="6.95"/>
<circle cx="525.0" cy="337.4" r="6.95"/>
<circle cx="525.0" cy="337.4" r="6.95"/>
<circle cx="525.4" cy="337.4" r="6.95"/>
<circle cx="525.8" cy="337.4" r="6.95"/>
<circle cx="526.3" cy="337.4" r="6.95"/>
<circle cx="526.7" cy="337.4" r="6.95"/>
<circle cx="526.8" cy="337.4" r="6.95"/>
<circle cx="527.1" cy="337.4" r="6.95"/>
<circle cx="527.5" cy="337.4" r="6.95"/>
<circle cx="527.8" cy="337.4" r="6.95"/>
<circle cx="528.3" cy="337.4" r="6.95"/>
<circle cx="528.4" cy="337.4" r="6.95"/>
<circle cx="528.9" cy="337.4" r="6.95"/>
<circle cx="529.2" cy="337.4" r="6.95"/>
<circle cx="529.6" cy="337.4" r="6.95"/>
<circle cx="529.9" cy="337.4" r="6.95"/>
<circle cx="530.2" cy="337.4" r="6.95"/>
<circle cx="530.4" cy="337.4" r="6.95"/>
<circle cx="530.8" cy="337.4" r="6.95"/>
<circle cx="531.1" cy="337.4" r="6.95"/>
<circle cx="531.6" cy="337.4" r="6.95"/>
<circle cx="531.7" cy="337.4" r="6.95"/>
<circle cx="532.1" cy="337.4" r="6.95"/>
<circle cx="532.6" cy="337.4" r="6.95"/>
<circle cx="532.7" cy="337.4" r="6.95"/>
<circle cx="533.0" cy="337.4" r="6.95"/>
<circle cx="533.3" cy="337.4" r="6.95"/>
<circle cx="533.9" cy="337.4" r="6.95"/>
<circle cx="534.1" cy="337.4" r="6.95"/>
<circle cx="534.7" cy="337.4" r="6.95"/>
<circle cx="535.0" cy="337.4" r="6.95"/>
<circle cx="535.3" cy="337.4" r="6.95"/>
<circle cx="535.4" cy="337.4" r="6.95"/>
<circle cx="535.7" cy="337.4" r="6.95"/>
<circle cx="536.0" cy="337.4" r="6.95"/>
<circle cx="536.5" cy="337.4" r="6.95"/>
<circle cx="536.9" cy="337.4" r="6.95"/>
<circle cx="537.1" cy="333.2" r="6.95"/>
<circle cx="537.4" cy="333.2" r="6.95"/>
<circle cx="537.8" cy="333.2" r="6.95"/>
<circle cx="538.2" cy="333.2" r="6.95"/>
<circle cx="538.5" cy="333.2" r="6.95"/>
<circle cx="538.9" cy="333.2" r="6.95"/>
<circle cx="539.3" cy="333.2" r="6.95"/>
<circle cx="539.5" cy="333.2" r="6.95"/>
<circle cx="539.7" cy="333.2" r="6.95"/>
<circle cx="540.2" cy="333.2" r="6.95"/>
<circle cx="540.4" cy="333.2" r="6.95"/>
<circle cx="540.8" cy="333.2" r="6.95"/>
<circle cx="541.1" cy="333.2" r="6.95"/>
<circle cx="541.5" cy="333.2" r="6.95"/>
<circle cx="541.7" cy="333.2" r="6.95"/>
<circle cx="542.0" cy="333.2" r="6.95"/>
<circle cx="542.4" cy="333.2" r="6.95"/>
<circle cx="542.7" cy="333.2" r="6.95"/>
<circle cx="543.2" cy="333.2" r="6.95"/>
<circle cx="543.5" cy="333.2" r="6.95"/>
<circle cx="543.7" cy="333.2" r="6.95"/>
<circle cx="544.1" cy="333.2" r="6.95"/>
<circle cx="544.6" cy="333.2" r="6.95"/>
<circle cx="544.7" cy="333.2" r="6.95"/>
<circle cx="545.0" cy="333.2" r="6.95"/>
<circle cx="545.5" cy="333.2" r="6.95"/>
<circle cx="545.8" cy="333.2" r="6.95"/>
<circle cx="546.2" cy="333.2" r="6.95"/>
<circle cx="546.3" cy="333.2" r="6.95"/>
<circle cx="546.7" cy="333.2" r="6.95"/>
<circle cx="547.2" cy="333.2" r="6.95"/>
<circle cx="547.5" cy="333.2" r="6.95"/>
<circle cx="547.8" cy="333.2" r="6.95"/>
<circle cx="547.9" cy="333.2" r="6.95"/>
<circle cx="548.3" cy="333.2" r="6.95"/>
<circle cx="548.6" cy="333.2" r="6.95"/>
<circle cx="548.9" cy="333.2" r="6.95"/>
<circle cx="549.5" cy="333.2" r="6.95"/>
<circle cx="549.7" cy="333.2" r="6.95"/>
<circle cx="550.2" cy="333.2" r="6.95"/>
<circle cx="550.3" cy="333.2" r="6.95"/>
<circle cx="550.8" cy="333.2" r="6.95"/>
<circle cx="551.0" cy="333.2" r="6.95"/>
<circle cx="551.3" cy="333.2" r="6.95"/>
<circle cx="551.8" cy="329.0" r="6.95"/>
<circle cx="552.2" cy="329.0" r="6.95"/>
<circle cx="552.2" cy="329.0" r="6.95"/>
<circle cx="552.7" cy="329.0" r="6.95"/>
<circle cx="553.1" cy="329.0" r="6.95"/>
<circle cx="553.3" cy="329.0" r="6.95"/>
<circle cx="553.6" cy="329.0" r="6.95"/>
<circle cx="553.9" cy="329.0" r="6.95"/>
<circle cx="554.3" cy="329.0" r="6.95"/>
<circle cx="554.6" cy="329.0" r="6.95"/>
<circle cx="555.1" cy="329.0" r="6.95"/>
<circle cx="555.4" cy="329.0" r="6.95"/>
<circle cx="555.6" cy="329.0" r="6.95"/>
<circle cx="555.9" cy="329.0" r="6.95"/>
<circle cx="556.3" cy="329.0" r="6.95"/>
<circle cx="556.8" cy="329.0" r="6.95"/>
<circle cx="557.0" cy="329.0" r="6.95"/>
<circle cx="557.3" cy="329.0" r="6.95"/>
<circle cx="557.6" cy="329.0" r="6.95"/>
<circle cx="558.2" cy="329.0" r="6.95"/>
<circle cx="558.4" cy="329.0" r="6.95"/>
<circle cx="558.6" cy="329.0" r="6.95"/>
<circle cx="558.9" cy="329.0" r="6.95"/>
<circle cx="559.4" cy="329.0" r="6.95"/>
<circle cx="559.8" cy="329.0" r="6.95"/>
<circle cx="560.1" cy="329.0" r="6.95"/>
<circle cx="560.3" cy="329.0" r="6.95"/>
<circle cx="560.7" cy="329.0" r="6.95"/>
<circle cx="561.2" cy="329.0" r="6.95"/>
<circle cx="561.4" cy="329.0" r="6.95"/>
<circle cx="561.7" cy="329.0" r="6.95"/>
<circle cx="562.0" cy="329.0" r="6.95"/>
<circle cx="562.6" cy="329.0" r="6.95"/>
<circle cx="562.7" cy="329.0" r="6.95"/>
<circle cx="563.1" cy="329.0" r="6.95"/>
<circle cx="563.4" cy="329.0" r="6.95"/>
<circle cx="563.8" cy="329.0" r="6.95"/>
<circle cx="564.3" cy="329.0" r="6.95"/>
<circle cx="564.6" cy="329.0" r="6.95"/>
<circle cx="564.8" cy="329.0" r="6.95"/>
<circle cx="565.0" cy="329.0" r="6.95"/>
<circle cx="565.6" cy="329.0" r="6.95"/>
<circle cx="565.7" cy="329.0" r="6.95"/>
<circle cx="566.0" cy="329.0" r="6.95"/>
<circle cx="566.6" cy="329.0" r="6.95"/>
<circle cx="566.8" cy="329.0" r="6.95"/>
<circle cx="567.3" cy="324.8" r="6.95"/>
<circle cx="567.5" cy="324.8" r="6.95"/>
<circle cx="568.0" cy="324.8" r="6.95"/>
<circle cx="568.1" cy="324.8" r="6.95"/>
<circle cx="568.4" cy="324.8" r="6.95"/>
<circle cx="568.7" cy="324.8" r="6.95"/>
<circle cx="569.2" cy="324.8" r="6.95"/>
<circle cx="569.5" cy="324.8" r="6.95"/>
<circle cx="569.9" cy="324.8" r="6.95"/>
<circle cx="570.0" cy="324.8" r="6.95"/>
<circle cx="570.5" cy="324.8" r="6.95"/>
<circle cx="570.7" cy="324.8" r="6.95"/>
<circle cx="571.1" cy="324.8" r="6.95"/>
<circle cx="571.3" cy="324.8" r="6.95"/>
<circle cx="571.7" cy="324.8" r="6.95"/>
<circle cx="572.1" cy="324.8" r="6.95"/>
<circle cx="572.6" cy="324.8" r="6.95"/>
<circle cx="572.6" cy="324.8" r="6.95"/>
<circle cx="573.1" cy="324.8" r="6.95"/>
<circle cx="573.5" cy="324.8" r="6.95"/>
<circle cx="573.9" cy="324.8" r="6.95"/>
<circle cx="574.0" cy="324.8" r="6.95"/>
<circle cx="574.3" cy="324.8" r="6.95"/>
<circle cx="574.9" cy="324.8" r="6.95"/>
<circle cx="575.2" cy="324.8" r="6.95"/>
<circle cx="575.4" cy="324.8" r="6.95"/>
<circle cx="575.6" cy="324.8" r="6.95"/>
<circle cx="576.2" cy="324.8" r="6.95"/>
<circle cx="576.4" cy="324.8" r="6.95"/>
<circle cx="576.9" cy="324.8" r="6.95"/>
<circle cx="577.1" cy="324.8" r="6.95"/>
<circle cx="577.5" cy="324.8" r="6.95"/>
<circle cx="577.6" cy="324.8" r="6.95"/>
<circle cx="578.1" cy="324.8" r="6.95"/>
<circle cx="578.3" cy="324.8" r="6.95"/>
<circle cx="578.7" cy="324.8" r="6.95"/>
<circle cx="579.1" cy="324.8" r="6.95"/>
<circle cx="579.5" cy="324.8" r="6.95"/>
<circle cx="579.6" cy="324.8" r="6.95"/>
<circle cx="579.9" cy="324.8" r="6.95"/>
<circle cx="580.3" cy="324.8" r="6.95"/>
<circle cx="580.7" cy="324.8" r="6.95"/>
<circle cx="581.0" cy="324.8" r="6.95"/>
<circle cx="581.2" cy="324.8" r="6.95"/>
<circle cx="581.6" cy="320.6" r="6.95"/>
<circle cx="582.1" cy="320.6" r="6.95"/>
<circle cx="582.5" cy="320.6" r="6.95"/>
<circle cx="582.5" cy="320.6" r="6.95"/>
<circle cx="583.0" cy="320.6" r="6.95"/>
<circle cx="583.4" cy="320.6" r="6.95"/>
<circle cx="583.5" cy="320.6" r="6.95"/>
<circle cx="584.1" cy="320.6" r="6.95"/>
<circle cx="584.2" cy="320.6" r="6.95"/>
<circle cx="584.6" cy="320.6" r="6.95"/>
<circle cx="585.0" cy="320.6" r="6.95"/>
<circle cx="585.3" cy="320.6" r="6.95"/>
<circle cx="585.5" cy="320.6" r="6.95"/>
<circle cx="585.9" cy="320.6" r="6.95"/>
<circle cx="586.3" cy="320.6" r="6.95"/>
<circle cx="586.6" cy="320.6" r="6.95"/>
<circle cx="587.0" cy="320.6" r="6.95"/>
<circle cx="587.2" cy="320.6" r="6.95"/>
<circle cx="587.6" cy="320.6" r="6.95"/>
<circle cx="587.7" cy="320.6" r="6.95"/>
<circle cx="588.3" cy="320.6" r="6.95"/>
<circle cx="588.6" cy="320.6" r="6.95"/>
<circle cx="588.8" cy="320.6" r="6.95"/>
<circle cx="589.3" cy="320.6" r="6.95"/>
<circle cx="589.6" cy="320.6" r="6.95"/>
<circle cx="589.9" cy="320.6" r="6.95"/>
<circle cx="590.1" cy="320.6" r="6.95"/>
<circle cx="590.5" cy="320.6" r="6.95"/>
<circle cx="590.7" cy="320.6" r="6.95"/>
<circle cx="591.1" cy="320.6" r="6.95"/>
<circle cx="591.5" cy="320.6" r="6.95"/>
<circle cx="591.7" cy="320.6" r="6.95"/>
<circle cx="592.1" cy="316.4" r="6.95"/>
<circle cx="592.4" cy="316.4" r="6.95"/>
<circle cx="592.6" cy="316.4" r="6.95"/>
<circle cx="593.0" cy="316.4" r="6.95"/>
<circle cx="593.2" cy="316.4" r="6.95"/>
<circle cx="593.6" cy="316.4" r="6.95"/>
<circle cx="593.9" cy="316.4" r="6.95"/>
<circle cx="594.1" cy="316.4" r="6.95"/>
<circle cx="594.3" cy="316.4" r="6.95"/>
<circle cx="594.7" cy="316.4" r="6.95"/>
<circle cx="595.0" cy="316.4" r="6.95"/>
<circle cx="595.4" cy="316.4" r="6.95"/>
<circle cx="595.5" cy="316.4" r="6.95"/>
<circle cx="595.9" cy="316.4" r="6.95"/>
<circle cx="596.3" cy="316.4" r="6.95"/>
<circle cx="596.5" cy="316.4" r="6.95"/>
<circle cx="596.8" cy="316.4" r="6.95"/>
<circle cx="596.9" cy="316.4" r="6.95"/>
<circle cx="597.4" cy="316.4" r="6.95"/>
<circle cx="597.5" cy="316.4" r="6.95"/>
<circle cx="598.0" cy="316.4" r="6.95"/>
<circle cx="598.2" cy="316.4" r="6.95"/>
<circle cx="598.3" cy="316.4" r="6.95"/>
<circle cx="598.8" cy="316.4" r="6.95"/>
<circle cx="599.1" cy="316.4" r="6.95"/>
<circle cx="599.1" cy="316.4" r="6.95"/>
<circle cx="599.5" cy="312.2" r="6.95"/>
<circle cx="599.8" cy="312.2" r="6.95"/>
<circle cx="600.0" cy="312.2" r="6.95"/>
<circle cx="600.4" cy="312.2" r="6.95"/>
<circle cx="600.5" cy="312.2" r="6.95"/>
<circle cx="600.9" cy="312.2" r="6.95"/>
<circle cx="601.0" cy="312.2" r="6.95"/>
<circle cx="601.3" cy="312.2" r="6.95"/>
<circle cx="601.7" cy="312.2" r="6.95"/>
<circle cx="601.7" cy="312.2" r="6.95"/>
<circle cx="602.0" cy="312.2" r="6.95"/>
<circle cx="602.3" cy="312.2" r="6.95"/>
<circle cx="602.5" cy="312.2" r="6.95"/>
<circle cx="602.7" cy="312.2" r="6.95"/>
<circle cx="603.0" cy="312.2" r="6.95"/>
<circle cx="603.3" cy="312.2" r="6.95"/>
<circle cx="603.7" cy="312.2" r="6.95"/>
<circle cx="603.9" cy="312.2" r="6.95"/>
<circle cx="604.2" cy="312.2" r="6.95"/>
<circle cx="604.3" cy="312.2" r="6.95"/>
<circle cx="604.7" cy="308.0" r="6.95"/>
<circle cx="604.8" cy="308.0" r="6.95"/>
<circle cx="605.1" cy="308.0" r="6.95"/>
<circle cx="605.4" cy="308.0" r="6.95"/>
<circle cx="605.6" cy="308.0" r="6.95"/>
<circle cx="606.0" cy="308.0" r="6.95"/>
<circle cx="606.2" cy="308.0" r="6.95"/>
<circle cx="606.4" cy="308.0" r="6.95"/>
<circle cx="606.8" cy="308.0" r="6.95"/>
<circle cx="606.8" cy="308.0" r="6.95"/>
<circle cx="607.3" cy="308.0" r="6.95"/>
<circle cx="607.5" cy="308.0" r="6.95"/>
<circle cx="607.7" cy="308.0" r="6.95"/>
<circle cx="608.0" cy="308.0" r="6.95"/>
<circle cx="608.1" cy="308.0" r="6.95"/>
<circle cx="608.6" cy="308.0" r="6.95"/>
<circle cx="608.7" cy="308.0" r="6.95"/>
<circle cx="608.9" cy="308.0" r="6.95"/>
<circle cx="609.3" cy="308.0" r="6.95"/>
<circle cx="609.5" cy="308.0" r="6.95"/>
<circle cx="609.6" cy="303.8" r="6.95"/>
<circle cx="610.0" cy="303.8" r="6.95"/>
<circle cx="610.1" cy="303.8" r="6.95"/>
<circle cx="610.6" cy="303.8" r="6.95"/>
<circle cx="610.7" cy="303.8" r="6.95"/>
<circle cx="611.0" cy="303.8" r="6.95"/>
<circle cx="611.3" cy="303.8" r="6.95"/>
<circle cx="611.5" cy="303.8" r="6.95"/>
<circle cx="611.8" cy="303.8" r="6.95"/>
<circle cx="611.9" cy="303.8" r="6.95"/>
<circle cx="612.1" cy="303.8" r="6.95"/>
<circle cx="612.4" cy="303.8" r="6.95"/>
<circle cx="612.6" cy="303.8" r="6.95"/>
<circle cx="613.0" cy="303.8" r="6.95"/>
<circle cx="613.2" cy="303.8" r="6.95"/>
<circle cx="613.5" cy="303.8" r="6.95"/>
<circle cx="613.8" cy="303.8" r="6.95"/>
<circle cx="613.9" cy="303.8" r="6.95"/>
<circle cx="614.2" cy="303.8" r="6.95"/>
<circle cx="614.5" cy="303.8" r="6.95"/>
<circle cx="614.6" cy="299.7" r="6.95"/>
<circle cx="614.9" cy="299.7" r="6.95"/>
<circle cx="615.2" cy="299.7" r="6.95"/>
<circle cx="615.4" cy="299.7" r="6.95"/>
<circle cx="615.7" cy="299.7" r="6.95"/>
<circle cx="615.9" cy="299.7" r="6.95"/>
<circle cx="616.3" cy="299.7" r="6.95"/>
<circle cx="616.6" cy="299.7" r="6.95"/>
<circle cx="616.7" cy="299.7" r="6.95"/>
<circle cx="617.1" cy="299.7" r="6.95"/>
<circle cx="617.3" cy="299.7" r="6.95"/>
<circle cx="617.5" cy="299.7" r="6.95"/>
<circle cx="617.9" cy="299.7" r="6.95"/>
<circle cx="618.0" cy="299.7" r="6.95"/>
<circle cx="618.2" cy="299.7" r="6.95"/>
<circle cx="618.5" cy="299.7" r="6.95"/>
<circle cx="618.9" cy="299.7" r="6.95"/>
<circle cx="619.2" cy="299.7" r="6.95"/>
<circle cx="619.4" cy="299.7" r="6.95"/>
<circle cx="619.6" cy="295.5" r="6.95"/>
<circle cx="619.8" cy="295.5" r="6.95"/>
<circle cx="620.0" cy="295.5" r="6.95"/>
<circle cx="620.4" cy="295.5" r="6.95"/>
<circle cx="620.6" cy="295.5" r="6.95"/>
<circle cx="620.8" cy="295.5" r="6.95"/>
<circle cx="621.1" cy="295.5" r="6.95"/>
<circle cx="621.3" cy="295.5" r="6.95"/>
<circle cx="621.7" cy="295.5" r="6.95"/>
<circle cx="621.9" cy="295.5" r="6.95"/>
<circle cx="622.0" cy="295.5" r="6.95"/>
<circle cx="622.4" cy="295.5" r="6.95"/>
<circle cx="622.4" cy="295.5" r="6.95"/>
<circle cx="622.8" cy="295.5" r="6.95"/>
<circle cx="623.0" cy="295.5" r="6.95"/>
<circle cx="623.2" cy="295.5" r="6.95"/>
<circle cx="623.4" cy="295.5" r="6.95"/>
<circle cx="623.8" cy="295.5" r="6.95"/>
<circle cx="623.9" cy="295.5" r="6.95"/>
<circle cx="624.2" cy="291.3" r="6.95"/>
<circle cx="624.5" cy="291.3" r="6.95"/>
<circle cx="624.6" cy="291.3" r="6.95"/>
<circle cx="624.8" cy="291.3" r="6.95"/>
<circle cx="625.1" cy="291.3" r="6.95"/>
<circle cx="625.3" cy="291.3" r="6.95"/>
<circle cx="625.6" cy="291.3" r="6.95"/>
<circle cx="625.8" cy="291.3" r="6.95"/>
<circle cx="625.9" cy="291.3" r="6.95"/>
<circle cx="626.1" cy="291.3" r="6.95"/>
<circle cx="626.4" cy="291.3" r="6.95"/>
<circle cx="626.5" cy="291.3" r="6.95"/>
<circle cx="626.9" cy="291.3" r="6.95"/>
<circle cx="627.1" cy="291.3" r="6.95"/>
<circle cx="627.3" cy="291.3" r="6.95"/>
<circle cx="627.4" cy="291.3" r="6.95"/>
<circle cx="627.8" cy="287.1" r="6.95"/>
<circle cx="628.0" cy="287.1" r="6.95"/>
<circle cx="628.1" cy="287.1" r="6.95"/>
<circle cx="628.4" cy="287.1" r="6.95"/>
<circle cx="628.5" cy="287.1" r="6.95"/>
<circle cx="628.7" cy="287.1" r="6.95"/>
<circle cx="628.9" cy="287.1" r="6.95"/>
<circle cx="629.1" cy="287.1" r="6.95"/>
<circle cx="629.3" cy="287.1" r="6.95"/>
<circle cx="629.6" cy="287.1" r="6.95"/>
<circle cx="629.9" cy="287.1" r="6.95"/>
<circle cx="630.1" cy="287.1" r="6.95"/>
<circle cx="630.3" cy="287.1" r="6.95"/>
<circle cx="630.5" cy="287.1" r="6.95"/>
<circle cx="630.6" cy="287.1" r="6.95"/>
<circle cx="630.9" cy="287.1" r="6.95"/>
<circle cx="631.1" cy="282.9" r="6.95"/>
<circle cx="631.3" cy="282.9" r="6.95"/>
<circle cx="631.5" cy="282.9" r="6.95"/>
<circle cx="631.6" cy="282.9" r="6.95"/>
<circle cx="631.8" cy="282.9" r="6.95"/>
<circle cx="632.1" cy="282.9" r="6.95"/>
<circle cx="632.1" cy="282.9" r="6.95"/>
<circle cx="632.4" cy="282.9" r="6.95"/>
<circle cx="632.4" cy="282.9" r="6.95"/>
<circle cx="632.7" cy="282.9" r="6.95"/>
<circle cx="632.8" cy="282.9" r="6.95"/>
<circle cx="633.1" cy="282.9" r="6.95"/>
<circle cx="633.3" cy="282.9" r="6.95"/>
<circle cx="633.5" cy="282.9" r="6.95"/>
<circle cx="633.6" cy="282.9" r="6.95"/>
<circle cx="633.9" cy="278.7" r="6.95"/>
<circle cx="633.9" cy="278.7" r="6.95"/>
<circle cx="634.1" cy="278.7" r="6.95"/>
<circle cx="634.4" cy="278.7" r="6.95"/>
<circle cx="634.5" cy="278.7" r="6.95"/>
<circle cx="634.7" cy="278.7" r="6.95"/>
<circle cx="634.9" cy="278.7" r="6.95"/>
<circle cx="635.1" cy="278.7" r="6.95"/>
<circle cx="635.2" cy="278.7" r="6.95"/>
<circle cx="635.4" cy="278.7" r="6.95"/>
<circle cx="635.6" cy="278.7" r="6.95"/>
<circle cx="635.8" cy="278.7" r="6.95"/>
<circle cx="635.9" cy="278.7" r="6.95"/>
<circle cx="636.1" cy="278.7" r="6.95"/>
<circle cx="636.3" cy="278.7" r="6.95"/>
<circle cx="636.4" cy="274.5" r="6.95"/>
<circle cx="636.5" cy="274.5" r="6.95"/>
<circle cx="636.8" cy="274.5" r="6.95"/>
<circle cx="636.9" cy="274.5" r="6.95"/>
<circle cx="637.2" cy="274.5" r="6.95"/>
<circle cx="637.2" cy="274.5" r="6.95"/>
<circle cx="637.3" cy="274.5" r="6.95"/>
<circle cx="637.5" cy="274.5" r="6.95"/>
<circle cx="637.8" cy="274.5" r="6.95"/>
<circle cx="637.9" cy="274.5" r="6.95"/>
<circle cx="638.0" cy="274.5" r="6.95"/>
<circle cx="638.2" cy="274.5" r="6.95"/>
<circle cx="638.3" cy="274.5" r="6.95"/>
<circle cx="638.6" cy="274.5" r="6.95"/>
<circle cx="638.7" cy="274.5" r="6.95"/>
<circle cx="638.9" cy="270.3" r="6.95"/>
<circle cx="639.0" cy="270.3" r="6.95"/>
<circle cx="639.1" cy="270.3" r="6.95"/>
<circle cx="639.2" cy="270.3" r="6.95"/>
<circle cx="639.3" cy="270.3" r="6.95"/>
<circle cx="639.5" cy="270.3" r="6.95"/>
<circle cx="639.6" cy="270.3" r="6.95"/>
<circle cx="639.8" cy="270.3" r="6.95"/>
<circle cx="639.8" cy="270.3" r="6.95"/>
<circle cx="640.0" cy="270.3" r="6.95"/>
<circle cx="640.1" cy="270.3" r="6.95"/>
<circle cx="640.3" cy="270.3" r="6.95"/>
<circle cx="640.3" cy="270.3" r="6.95"/>
<circle cx="640.4" cy="270.3" r="6.95"/>
<circle cx="640.5" cy="266.1" r="6.95"/>
<circle cx="640.9" cy="266.1" r="6.95"/>
<circle cx="641.5" cy="266.1" r="6.95"/>
<circle cx="641.8" cy="266.1" r="6.95"/>
<circle cx="642.0" cy="261.9" r="6.95"/>
<circle cx="642.1" cy="261.9" r="6.95"/>
<circle cx="642.2" cy="261.9" r="6.95"/>
<circle cx="642.3" cy="261.9" r="6.95"/>
<circle cx="642.4" cy="257.8" r="6.95"/>
<circle cx="642.5" cy="257.8" r="6.95"/>
<circle cx="642.6" cy="257.8" r="6.95"/>
<circle cx="642.7" cy="257.8" r="6.95"/>
<circle cx="642.8" cy="253.6" r="6.95"/>
<circle cx="642.8" cy="253.6" r="6.95"/>
<circle cx="642.9" cy="253.6" r="6.95"/>
<circle cx="642.9" cy="253.6" r="6.95"/>
<circle cx="643.0" cy="253.6" r="6.95"/>
<circle cx="643.1" cy="253.6" r="6.95"/>
<circle cx="643.1" cy="253.6" r="6.95"/>
<circle cx="643.2" cy="249.4" r="6.95"/>
<circle cx="643.3" cy="249.4" r="6.95"/>
<circle cx="643.3" cy="249.4" r="6.95"/>
<circle cx="643.4" cy="249.4" r="6.95"/>
<circle cx="643.5" cy="249.4" r="6.95"/>
<circle cx="643.5" cy="249.4" r="6.95"/>
<circle cx="643.6" cy="249.4" r="6.95"/>
<circle cx="643.7" cy="245.2" r="6.95"/>
<circle cx="643.8" cy="245.2" r="6.95"/>
<circle cx="643.9" cy="245.2" r="6.95"/>
<circle cx="644.1" cy="245.2" r="6.95"/>
<circle cx="644.2" cy="241.0" r="6.95"/>
<circle cx="644.3" cy="241.0" r="6.95"/>
<circle cx="644.5" cy="241.0" r="6.95"/>
<circle cx="644.6" cy="241.0" r="6.95"/>
<circle cx="644.8" cy="236.8" r="6.95"/>
<circle cx="644.9" cy="236.8" r="6.95"/>
<circle cx="645.0" cy="236.8" r="6.95"/>
<circle cx="645.2" cy="236.8" r="6.95"/>
<circle cx="645.4" cy="232.6" r="6.95"/>
<circle cx="645.5" cy="232.6" r="6.95"/>
<circle cx="645.5" cy="232.6" r="6.95"/>
<circle cx="645.6" cy="232.6" r="6.95"/>
<circle cx="645.7" cy="232.6" r="6.95"/>
<circle cx="645.9" cy="232.6" r="6.95"/>
<circle cx="645.9" cy="228.4" r="6.95"/>
<circle cx="646.1" cy="228.4" r="6.95"/>
<circle cx="646.2" cy="228.4" r="6.95"/>
<circle cx="646.4" cy="228.4" r="6.95"/>
<circle cx="646.5" cy="228.4" r="6.95"/>
<circle cx="646.7" cy="228.4" r="6.95"/>
<circle cx="646.7" cy="228.4" r="6.95"/>
<circle cx="646.8" cy="228.4" r="6.95"/>
<circle cx="647.0" cy="228.4" r="6.95"/>
<circle cx="647.1" cy="228.4" r="6.95"/>
<circle cx="647.2" cy="224.2" r="6.95"/>
<circle cx="647.4" cy="224.2" r="6.95"/>
<circle cx="647.5" cy="224.2" r="6.95"/>
<circle cx="647.8" cy="224.2" r="6.95"/>
<circle cx="647.9" cy="224.2" r="6.95"/>
<circle cx="648.1" cy="224.2" r="6.95"/>
<circle cx="648.2" cy="224.2" r="6.95"/>
<circle cx="648.3" cy="224.2" r="6.95"/>
<circle cx="648.5" cy="224.2" r="6.95"/>
<circle cx="648.6" cy="224.2" r="6.95"/>
<circle cx="648.9" cy="220.1" r="6.95"/>
<circle cx="648.9" cy="220.1" r="6.95"/>
<circle cx="649.2" cy="220.1" r="6.95"/>
<circle cx="649.2" cy="220.1" r="6.95"/>
<circle cx="649.4" cy="220.1" r="6.95"/>
<circle cx="649.6" cy="220.1" r="6.95"/>
<circle cx="649.9" cy="220.1" r="6.95"/>
<circle cx="650.0" cy="220.1" r="6.95"/>
<circle cx="650.1" cy="220.1" r="6.95"/>
<circle cx="650.4" cy="220.1" r="6.95"/>
<circle cx="650.4" cy="215.9" r="6.95"/>
<circle cx="650.7" cy="215.9" r="6.95"/>
<circle cx="650.9" cy="215.9" r="6.95"/>
<circle cx="651.1" cy="215.9" r="6.95"/>
<circle cx="651.3" cy="215.9" r="6.95"/>
<circle cx="651.4" cy="215.9" r="6.95"/>
<circle cx="651.5" cy="215.9" r="6.95"/>
<circle cx="651.7" cy="215.9" r="6.95"/>
<circle cx="651.9" cy="215.9" r="6.95"/>
<circle cx="652.2" cy="215.9" r="6.95"/>
<circle cx="652.3" cy="211.7" r="6.95"/>
<circle cx="652.5" cy="211.7" r="6.95"/>
<circle cx="652.6" cy="211.7" r="6.95"/>
<circle cx="652.8" cy="211.7" r="6.95"/>
<circle cx="653.0" cy="211.7" r="6.95"/>
<circle cx="653.2" cy="211.7" r="6.95"/>
<circle cx="653.3" cy="211.7" r="6.95"/>
<circle cx="653.5" cy="211.7" r="6.95"/>
<circle cx="653.7" cy="211.7" r="6.95"/>
<circle cx="653.8" cy="211.7" r="6.95"/>
<circle cx="654.0" cy="211.7" r="6.95"/>
<circle cx="654.2" cy="207.5" r="6.95"/>
<circle cx="654.4" cy="207.5" r="6.95"/>
<circle cx="654.6" cy="207.5" r="6.95"/>
<circle cx="654.7" cy="207.5" r="6.95"/>
<circle cx="654.9" cy="207.5" r="6.95"/>
<circle cx="655.1" cy="207.5" r="6.95"/>
<circle cx="655.3" cy="207.5" r="6.95"/>
<circle cx="655.5" cy="207.5" r="6.95"/>
<circle cx="655.7" cy="207.5" r="6.95"/>
<circle cx="655.9" cy="207.5" r="6.95"/>
<circle cx="656.0" cy="207.5" r="6.95"/>
<circle cx="656.4" cy="203.3" r="6.95"/>
<circle cx="656.6" cy="203.3" r="6.95"/>
<circle cx="656.6" cy="203.3" r="6.95"/>
<circle cx="657.0" cy="203.3" r="6.95"/>
<circle cx="657.1" cy="203.3" r="6.95"/>
<circle cx="657.3" cy="203.3" r="6.95"/>
<circle cx="657.7" cy="203.3" r="6.95"/>
<circle cx="657.8" cy="203.3" r="6.95"/>
<circle cx="658.0" cy="203.3" r="6.95"/>
<circle cx="658.2" cy="203.3" r="6.95"/>
<circle cx="658.3" cy="203.3" r="6.95"/>
<circle cx="662.4" cy="199.1" r="6.95"/>
<circle cx="662.7" cy="199.1" r="6.95"/>
<circle cx="663.4" cy="199.1" r="6.95"/>
<circle cx="664.2" cy="199.1" r="6.95"/>
<circle cx="664.6" cy="199.1" r="6.95"/>
<circle cx="665.5" cy="199.1" r="6.95"/>
<circle cx="666.4" cy="199.1" r="6.95"/>
<circle cx="667.0" cy="199.1" r="6.95"/>
<circle cx="667.5" cy="199.1" r="6.95"/>
<circle cx="668.3" cy="199.1" r="6.95"/>
<circle cx="668.8" cy="199.1" r="6.95"/>
<circle cx="669.2" cy="199.1" r="6.95"/>
<circle cx="670.0" cy="194.9" r="6.95"/>
<circle cx="670.3" cy="194.9" r="6.95"/>
<circle cx="670.8" cy="194.9" r="6.95"/>
<circle cx="671.3" cy="194.9" r="6.95"/>
<circle cx="671.5" cy="194.9" r="6.95"/>
<circle cx="671.9" cy="194.9" r="6.95"/>
<circle cx="672.3" cy="194.9" r="6.95"/>
<circle cx="672.6" cy="194.9" r="6.95"/>
<circle cx="672.9" cy="194.9" r="6.95"/>
<circle cx="673.5" cy="190.7" r="6.95"/>
<circle cx="673.9" cy="190.7" r="6.95"/>
<circle cx="674.2" cy="190.7" r="6.95"/>
<circle cx="674.6" cy="190.7" r="6.95"/>
<circle cx="675.0" cy="190.7" r="6.95"/>
<circle cx="675.3" cy="190.7" r="6.95"/>
<circle cx="675.6" cy="190.7" r="6.95"/>
<circle cx="675.9" cy="190.7" r="6.95"/>
<circle cx="676.2" cy="190.7" r="6.95"/>
<circle cx="676.7" cy="186.5" r="6.95"/>
<circle cx="676.8" cy="186.5" r="6.95"/>
<circle cx="677.3" cy="186.5" r="6.95"/>
<circle cx="677.7" cy="186.5" r="6.95"/>
<circle cx="678.0" cy="186.5" r="6.95"/>
<circle cx="678.3" cy="186.5" r="6.95"/>
<circle cx="678.5" cy="186.5" r="6.95"/>
<circle cx="678.8" cy="186.5" r="6.95"/>
<circle cx="679.1" cy="182.4" r="6.95"/>
<circle cx="679.5" cy="182.4" r="6.95"/>
<circle cx="679.8" cy="182.4" r="6.95"/>
<circle cx="680.1" cy="182.4" r="6.95"/>
<circle cx="680.5" cy="182.4" r="6.95"/>
<circle cx="680.6" cy="182.4" r="6.95"/>
<circle cx="681.1" cy="182.4" r="6.95"/>
<circle cx="681.4" cy="182.4" r="6.95"/>
<circle cx="681.6" cy="178.2" r="6.95"/>
<circle cx="682.0" cy="178.2" r="6.95"/>
<circle cx="682.5" cy="178.2" r="6.95"/>
<circle cx="682.5" cy="178.2" r="6.95"/>
<circle cx="683.0" cy="178.2" r="6.95"/>
<circle cx="683.3" cy="174.0" r="6.95"/>
<circle cx="684.6" cy="174.0" r="6.95"/>
<circle cx="685.5" cy="174.0" r="6.95"/>
<circle cx="685.8" cy="169.8" r="6.95"/>
<circle cx="686.2" cy="169.8" r="6.95"/>
<circle cx="687.1" cy="169.8" r="6.95"/>
<circle cx="687.7" cy="169.8" r="6.95"/>
<circle cx="688.4" cy="165.6" r="6.95"/>
<circle cx="688.8" cy="165.6" r="6.95"/>
<circle cx="689.3" cy="165.6" r="6.95"/>
<circle cx="689.9" cy="165.6" r="6.95"/>
<circle cx="692.5" cy="161.4" r="6.95"/>
<circle cx="693.5" cy="161.4" r="6.95"/>
<circle cx="694.5" cy="161.4" r="6.95"/>
<circle cx="695.8" cy="157.2" r="6.95"/>
<circle cx="696.2" cy="157.2" r="6.95"/>
<circle cx="696.6" cy="157.2" r="6.95"/>
<circle cx="697.0" cy="157.2" r="6.95"/>
<circle cx="697.4" cy="157.2" r="6.95"/>
<circle cx="698.8" cy="153.0" r="6.95"/>
<circle cx="699.6" cy="153.0" r="6.95"/>
<circle cx="700.4" cy="153.0" r="6.95"/>
<circle cx="702.0" cy="148.8" r="6.95"/>
<circle cx="703.5" cy="148.8" r="6.95"/>
<circle cx="705.2" cy="144.6" r="6.95"/>
<circle cx="706.0" cy="144.6" r="6.95"/>
<circle cx="708.0" cy="140.5" r="6.95"/>
<circle cx="708.1" cy="140.5" r="6.95"/>
<circle cx="708.3" cy="140.5" r="6.95"/>
<circle cx="708.5" cy="140.5" r="6.95"/>
<circle cx="711.6" cy="136.3" r="6.95"/>
<circle cx="717.3" cy="132.1" r="6.95"/>
<circle cx="719.6" cy="132.1" r="6.95"/>
<circle cx="722.1" cy="132.1" r="6.95"/>
</g>
<g fill="#000" fill-opacity="0.047" shape-rendering="crispEdges">
<rect x="98" y="111.0" width="2" height="769.0"/>
<rect x="203" y="111.0" width="2" height="769.0"/>
<rect x="309" y="111.0" width="2" height="769.0"/>
<rect x="414" y="111.0" width="2" height="769.0"/>
<rect x="519" y="111.0" width="2" height="769.0"/>
<rect x="625" y="111.0" width="2" height="769.0"/>
<rect x="730" y="111.0" width="2" height="769.0"/>
<rect x="836" y="111.0" width="2" height="769.0"/>
<rect x="68.0" y="847" width="774.0" height="2"/>
<rect x="68.0" y="742" width="774.0" height="2"/>
<rect x="68.0" y="637" width="774.0" height="2"/>
<rect x="68.0" y="533" width="774.0" height="2"/>
<rect x="68.0" y="428" width="774.0" height="2"/>
<rect x="68.0" y="323" width="774.0" height="2"/>
<rect x="68.0" y="218" width="774.0" height="2"/>
<rect x="68.0" y="114" width="774.0" height="2"/>
</g>
<g clip-path="url(#ax)" fill="none" stroke-width="4.17" stroke-linecap="square">
<line x1="97.7" y1="424.4" x2="722.1" y2="251.1" stroke="#ff0000" stroke-opacity="0.34"/>
<line x1="46.0" y1="900.37" x2="861.0" y2="90.63" stroke="#0000ff" stroke-opacity="0.34"/>
</g>
<g fill="#000" shape-rendering="crispEdges">
<rect x="67" y="110" width="776" height="1"/>
<rect x="67" y="880" width="776" height="1"/>
<rect x="67" y="110" width="1" height="771"/>
<rect x="842" y="110" width="1" height="771"/>
<rect x="99" y="881" width="1" height="5"/>
<rect x="204" y="881" width="1" height="5"/>
<rect x="310" y="881" width="1" height="5"/>
<rect x="415" y="881" width="1" height="5"/>
<rect x="520" y="881" width="1" height="5"/>
<rect x="626" y="881" width="1" height="5"/>
<rect x="731" y="881" width="1" height="5"/>
<rect x="837" y="881" width="1" height="5"/>
<rect x="62" y="848" width="5" height="1"/>
<rect x="62" y="743" width="5" height="1"/>
<rect x="62" y="638" width="5" height="1"/>
<rect x="62" y="534" width="5" height="1"/>
<rect x="62" y="429" width="5" height="1"/>
<rect x="62" y="324" width="5" height="1"/>
<rect x="62" y="219" width="5" height="1"/>
<rect x="62" y="115" width="5" height="1"/>
</g>
<g font-size="14.2" text-anchor="middle">
<text x="98.7" y="900.8" textLength="26.1" lengthAdjust="spacingAndGlyphs">200</text>
<text x="203.7" y="900.8" textLength="26.1" lengthAdjust="spacingAndGlyphs">225</text>
<text x="309.7" y="900.8" textLength="26.1" lengthAdjust="spacingAndGlyphs">250</text>
<text x="414.7" y="900.8" textLength="26.1" lengthAdjust="spacingAndGlyphs">275</text>
<text x="519.7" y="900.8" textLength="26.1" lengthAdjust="spacingAndGlyphs">300</text>
<text x="625.7" y="900.8" textLength="26.1" lengthAdjust="spacingAndGlyphs">325</text>
<text x="730.7" y="900.8" textLength="26.1" lengthAdjust="spacingAndGlyphs">350</text>
<text x="835.5" y="900.8" textLength="25.0" lengthAdjust="spacingAndGlyphs">375</text>
</g>
<g font-size="14.2" text-anchor="end">
<text x="56.8" y="853.6" textLength="26.1" lengthAdjust="spacingAndGlyphs">200</text>
<text x="56.8" y="748.6" textLength="26.1" lengthAdjust="spacingAndGlyphs">225</text>
<text x="56.8" y="643.6" textLength="26.1" lengthAdjust="spacingAndGlyphs">250</text>
<text x="56.8" y="539.6" textLength="26.1" lengthAdjust="spacingAndGlyphs">275</text>
<text x="56.8" y="434.6" textLength="26.1" lengthAdjust="spacingAndGlyphs">300</text>
<text x="56.8" y="329.6" textLength="26.1" lengthAdjust="spacingAndGlyphs">325</text>
<text x="56.8" y="224.6" textLength="26.1" lengthAdjust="spacingAndGlyphs">350</text>
<text x="56.8" y="120.6" textLength="26.1" lengthAdjust="spacingAndGlyphs">375</text>
</g>
<text x="453.6" y="921.2" font-size="17" text-anchor="middle" textLength="84" lengthAdjust="spacingAndGlyphs">Simulated</text>
<text transform="translate(21.8,496.6) rotate(-90)" font-size="17" text-anchor="middle" textLength="79" lengthAdjust="spacingAndGlyphs">Observed</text>
<text x="441.7" y="24.9" font-size="19.8" text-anchor="middle" textLength="586" lengthAdjust="spacingAndGlyphs">Q-Q plot at is.landsvirkjun.b13 for downward_longwave_flux</text>
<text x="441.4" y="47.9" font-size="19.8" text-anchor="middle" textLength="314" lengthAdjust="spacingAndGlyphs">from rav2-09-10 during summer</text>
</svg></body></html>
